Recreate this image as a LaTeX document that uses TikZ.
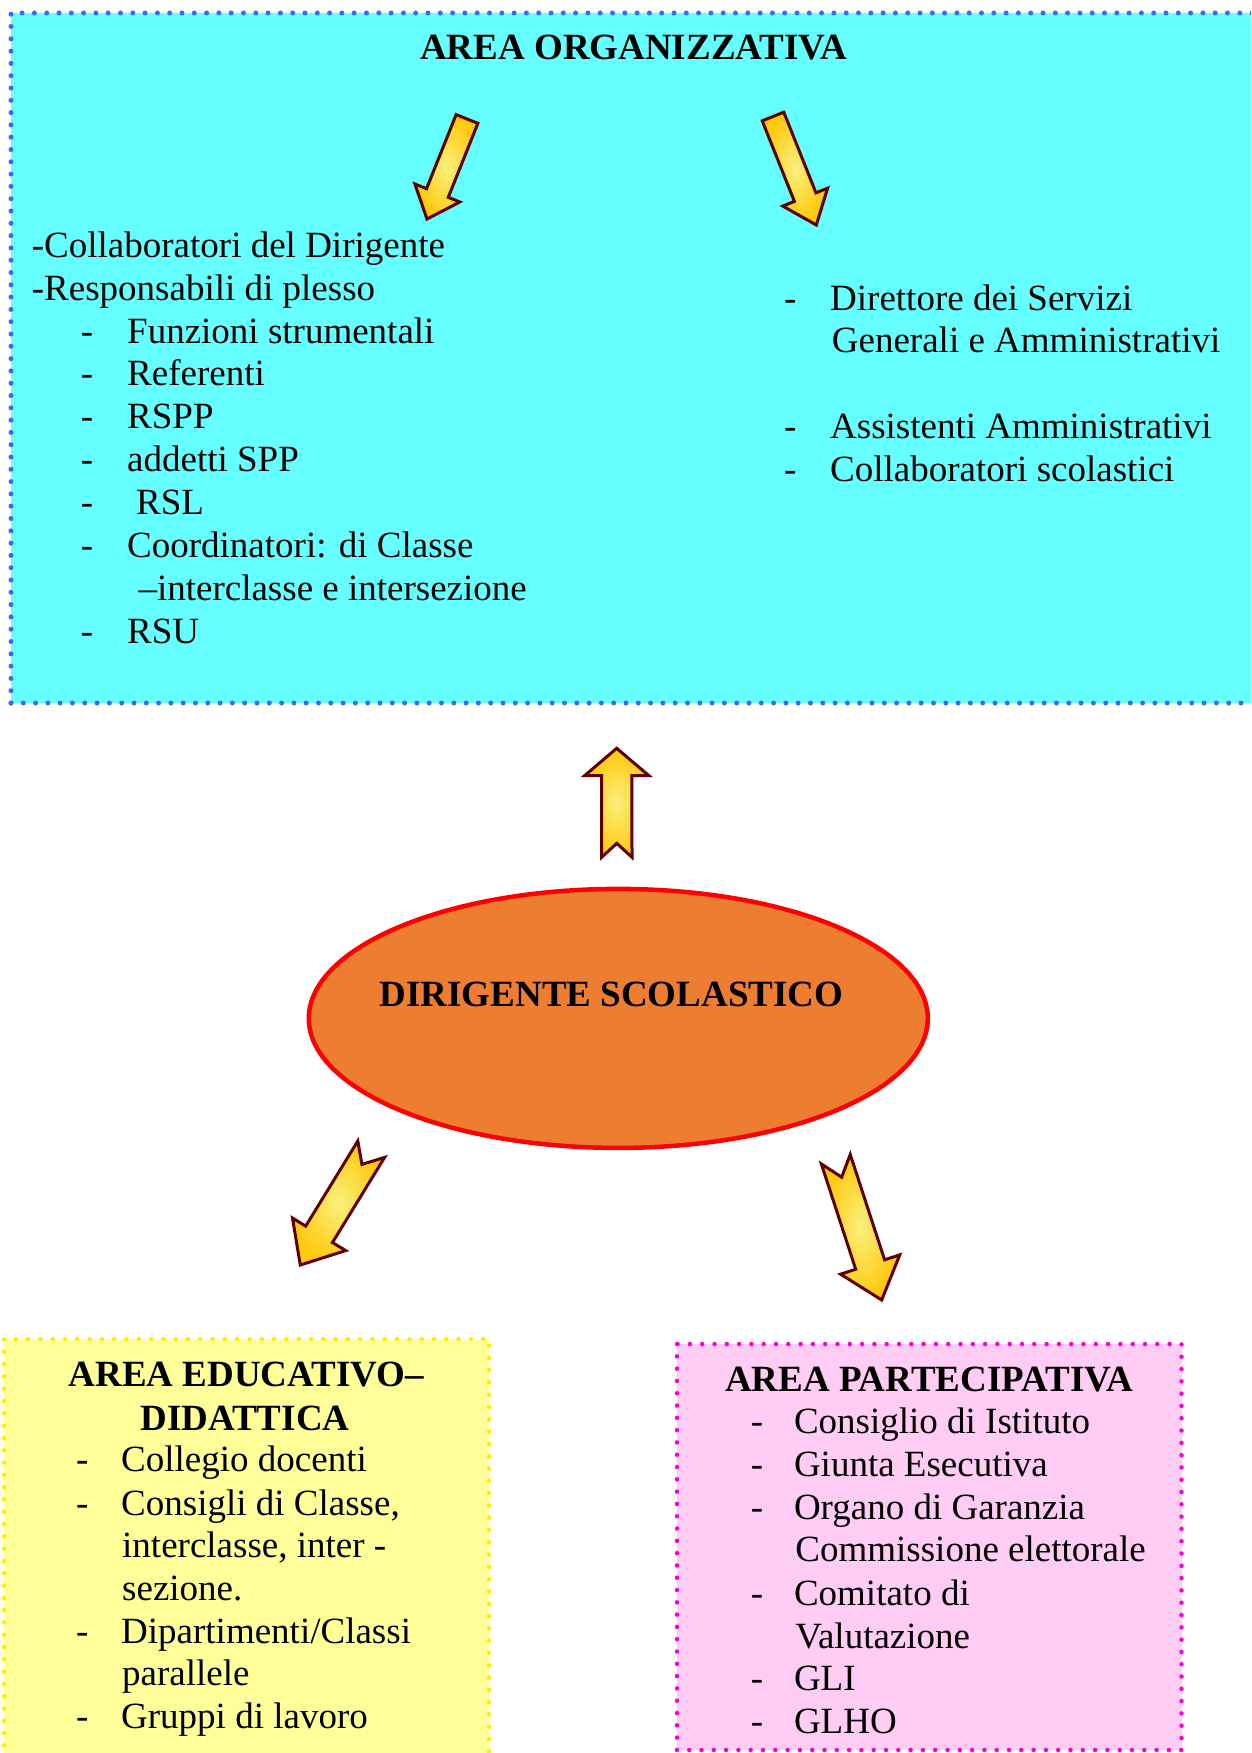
\documentclass[tikz,border=0pt]{standalone}
\usepackage{fontspec}
\setmainfont{Liberation Serif}
\usetikzlibrary{calc,shapes.geometric}
\definecolor{cyanfill}{HTML}{66FFFF}
\definecolor{bluedot}{HTML}{3D66FF}
\definecolor{yelfill}{HTML}{FFFF99}
\definecolor{yeldot}{HTML}{FFEE00}
\definecolor{pinkfill}{HTML}{FFCCF4}
\definecolor{pinkdot}{HTML}{FF00CC}
\definecolor{ellfill}{HTML}{ED7D31}
\definecolor{arrline}{HTML}{5E0000}
\definecolor{arrin}{HTML}{F9F07C}
\definecolor{arrout}{HTML}{FFC90E}
\tikzset{
  txt/.style={font=\fontsize{37}{43}\selectfont, inner sep=0pt, anchor=base west},
  ttl/.style={font=\fontsize{37}{43}\selectfont\bfseries, inner sep=0pt, anchor=base},
  blockarrowstyle/.style={draw=arrline, line width=3pt, line join=miter, inner color=arrin, outer color=arrout, shade},
  dotborder/.style={line width=5pt, dash pattern=on 0pt off 12.3pt, line cap=round}
}
\newcommand{\blockarrow}[7]{%
  \coordinate (#1t) at #2;
  \coordinate (#1p) at #3;
  \coordinate (#1h) at ($(#1p)!#6!(#1t)$);
  \coordinate (#1n) at ($(#1t)!#7!(#1p)$);
  \path[blockarrowstyle] ($(#1t)!#4!90:(#1p)$) -- ($(#1h)!#4!90:(#1p)$) -- ($(#1h)!#5!90:(#1p)$) -- (#1p) -- ($(#1h)!#5!-90:(#1p)$) -- ($(#1h)!#4!-90:(#1p)$) -- ($(#1t)!#4!-90:(#1p)$) -- (#1n) -- cycle;
}
\begin{document}
\begin{tikzpicture}[x=1pt,y=-1pt]
\useasboundingbox (0,0) rectangle (1251,1753);
\clip (0,0) rectangle (1251,1753);
\fill[white] (0,0) rectangle (1251,1753);

% Top area
\fill[cyanfill] (11,13) rectangle (1270,703);
\draw[dotborder, bluedot] (11,703) -- (11,13) -- (1270,13);
\draw[dotborder, bluedot] (11,703) -- (1270,703);
\node[ttl] (torg) at (633.8,59.3) {AREA ORGANIZZATIVA};

\node[txt] (l1) at (31.7,257.7) {-Collaboratori del Dirigente};
\node[txt] (l2) at (31.7,300.3) {-Responsabili di plesso};
\node[txt] (d3) at (80.7,343) {-};
\node[txt] (l3) at (127,343) {Funzioni strumentali};
\node[txt] (d4) at (80.7,385.7) {-};
\node[txt] (l4) at (127,385.7) {Referenti};
\node[txt] (d5) at (80.7,428.3) {-};
\node[txt] (l5) at (127,428.3) {RSPP};
\node[txt] (d6) at (80.7,471.7) {-};
\node[txt] (l6) at (127,471.7) {addetti SPP};
\node[txt] (d7) at (80.7,514) {-};
\node[txt] (l7) at (136,514) {RSL};
\node[txt] (d8) at (80.7,557.3) {-};
\node[txt] (l8) at (127,557.3) {Coordinatori: di Classe};
\node[txt] (l9) at (138.3,600) {–interclasse e intersezione};
\node[txt] (d10) at (80.7,643.3) {-};
\node[txt] (l10) at (127,643.3) {RSU};

\node[txt] (rd1) at (784,310.3) {-};
\node[txt] (r1) at (830,310.3) {Direttore dei Servizi};
\node[txt] (r2) at (831.7,352.7) {Generali e Amministrativi};
\node[txt] (rd3) at (784,438.5) {-};
\node[txt] (r3) at (830,438.5) {Assistenti Amministrativi};
\node[txt] (rd4) at (784,481.5) {-};
\node[txt] (r4) at (830,481.5) {Collaboratori scolastici};

\blockarrow{a1}{(467,119)}{(427,219)}{11.7pt}{24.2pt}{28pt}{0pt}
\blockarrow{a2}{(773,116.5)}{(816.3,225)}{11.6pt}{24.1pt}{30pt}{0pt}

% Central ellipse
\node[ellipse, draw=red, line width=4.5pt, fill=ellfill, minimum width=619pt, minimum height=259pt, inner sep=0pt] (ds) at (618.3,1018.4) {};
\node[ttl] (dstext) at (611.5,1006) {DIRIGENTE SCOLASTICO};

\blockarrow{a3}{(616.8,857.3)}{(616.7,748.3)}{15.2pt}{32.2pt}{27.4pt}{14pt}
\blockarrow{a4}{(371.2,1149.2)}{(300.3,1265)}{15.7pt}{31.2pt}{36pt}{17.8pt}
\blockarrow{a5}{(835.8,1159.2)}{(881.7,1300)}{15.2pt}{31.1pt}{37.3pt}{18.9pt}

% Bottom-left area
\fill[yelfill] (4,1339) rectangle (489,1770);
\draw[dotborder, yeldot, line width=4.5pt] (4,1770) -- (4,1339) -- (489,1339) -- (489,1770);
\node[ttl] (tedu1) at (246.3,1386.7) {AREA EDUCATIVO–};
\node[ttl] (tedu2) at (245,1430) {DIDATTICA};
\node[txt] (ed1) at (76,1471.7) {-};
\node[txt] (e1) at (121,1471.7) {Collegio docenti};
\node[txt] (ed2) at (76,1515) {-};
\node[txt] (e2) at (121,1515) {Consigli di Classe,};
\node[txt] (e3) at (122,1557.3) {interclasse, inter -};
\node[txt] (e4) at (122,1600) {sezione.};
\node[txt] (ed5) at (76,1643.3) {-};
\node[txt] (e5) at (121,1643.3) {Dipartimenti/Classi};
\node[txt] (e6) at (122,1685.7) {parallele};
\node[txt] (ed7) at (76,1728.3) {-};
\node[txt] (e7) at (121,1728.3) {Gruppi di lavoro};

% Bottom-right area
\fill[pinkfill] (677,1344) rectangle (1181.5,1750);
\draw[dotborder, pinkdot, line width=4.5pt] (677,1344) rectangle (1181.5,1750);
\node[ttl] (tpar) at (929.1,1391.7) {AREA PARTECIPATIVA};
\node[txt] (pd1) at (750.6,1433.3) {-};
\node[txt] (p1) at (793.8,1433.3) {Consiglio di Istituto};
\node[txt] (pd2) at (750.6,1476.7) {-};
\node[txt] (p2) at (793.8,1476.7) {Giunta Esecutiva};
\node[txt] (pd3) at (750.6,1519.3) {-};
\node[txt] (p3) at (793.8,1519.3) {Organo di Garanzia};
\node[txt] (p4) at (795.2,1561.7) {Commissione elettorale};
\node[txt] (pd5) at (750.6,1605) {-};
\node[txt] (p5) at (793.8,1605) {Comitato di};
\node[txt] (p6) at (795.2,1648.3) {Valutazione};
\node[txt] (pd7) at (750.6,1690.7) {-};
\node[txt] (p7) at (793.8,1690.7) {GLI};
\node[txt] (pd8) at (750.6,1733.3) {-};
\node[txt] (p8) at (793.8,1733.3) {GLHO};
\end{tikzpicture}
\end{document}
